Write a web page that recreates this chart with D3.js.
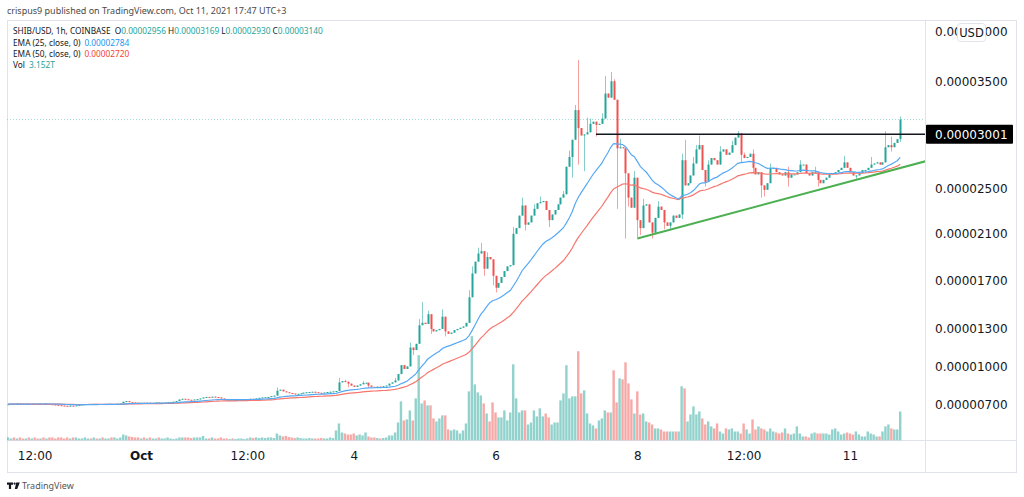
<!DOCTYPE html>
<html>
<head>
<meta charset="utf-8">
<script src="https://cdn.jsdelivr.net/npm/d3@7"></script>
<style>
body{margin:0;background:#fff;}
svg{display:block;}
</style>
</head>
<body>
<svg id="chart" width="1024" height="497"></svg>
<script>
// ---------- DATA (prices in units of 1e-6 USD, volume in trillions) ----------
const firstOpen = 7.05;
const closes = [
7.06,7.10,7.08,7.12,7.09,7.07,7.10,7.08,7.11,7.09,
7.08,7.10,7.07,7.09,7.06,7.04,7.02,6.98,6.96,6.94,
6.92,6.95,6.93,6.97,7.00,7.03,7.06,7.08,7.07,7.09,
7.06,7.08,7.05,7.07,7.09,7.06,7.08,7.10,7.12,7.25,
7.30,7.22,7.20,7.18,7.16,7.17,7.15,7.18,7.16,7.17,7.19,7.16,7.18,7.20,7.22,
7.22,7.25,7.30,7.42,7.48,7.44,
7.40,7.38,7.42,7.45,7.50,7.58,
7.62,7.60,7.64,7.61,7.58,7.50,
7.42,7.38,7.40,7.36,7.38,7.40,7.42,7.44,7.46,
7.48,7.45,7.50,7.55,7.58,7.60,7.62,7.68,
7.72,8.10,8.18,8.05,7.98,7.92,
7.88,7.84,7.86,7.90,7.95,
7.98,8.00,8.02,7.98,7.94,7.92,
7.96,8.00,8.02,8.05,8.08,
8.75,8.85,
8.80,8.65,8.50,8.40,8.50,8.60,8.70,8.72,8.50,8.40,8.38,8.42,8.40,8.45,8.50,8.65,8.75,
8.90,9.40,10.10,9.80,10.00,11.50,11.30,11.80,13.30,13.50,13.40,14.20,13.00,12.80,12.90,13.00,14.00,12.80,12.60,12.70,12.90,13.00,13.10,13.20,13.50,15.60,17.60,18.60,19.30,
19.50,18.00,19.00,18.80,17.40,16.40,16.80,17.30,17.80,18.20,18.30,21.00,21.50,22.60,23.50,21.80,22.00,22.60,23.20,23.70,
23.80,23.90,23.10,22.20,22.70,23.10,23.60,24.20,24.50,27.00,27.90,29.50,32.30,30.60,29.90,30.00,30.20,31.00,31.20,30.90,
31.00,31.50,33.90,33.50,35.10,33.30,28.70,28.80,28.70,26.40,24.20,23.30,26.00,22.20,21.50,23.50,23.60,22.00,21.10,22.40,
23.40,23.10,22.00,21.70,22.00,22.60,22.40,22.70,27.60,25.30,25.50,26.20,27.30,28.60,29.00,26.70,25.60,27.20,27.80,27.60,
27.20,28.40,28.60,28.10,28.30,29.00,29.70,30.10,28.10,27.80,27.90,28.20,26.90,26.30,26.50,25.30,24.90,25.50,26.90,26.90,
26.50,26.30,26.20,26.50,26.00,26.30,26.30,26.50,27.20,27.20,26.40,26.20,26.50,26.50,25.80,25.50,25.80,26.00,26.30,26.40,
26.50,26.70,26.90,27.40,26.90,26.50,26.20,26.20,26.40,26.70,26.70,26.90,27.20,27.30,27.40,27.20,27.40,28.80,29.00,28.80,29.20,29.56,31.40
];
// notable wicks beyond the body: [candle index, price]
const highWicks = [[91,8.35],[112,9.1],[114,8.95],[120,8.85],[131,9.1],[136,11.9],[139,13.8],[140,15.2],[142,14.5],[147,14.6],
[156,16.2],[157,18.2],[159,19.8],[160,20.2],[162,19.4],[171,21.6],[174,24.2],[178,23.6],[180,24.3],[188,24.8],[190,28.5],
[192,32.8],[193,37.2],[196,31.6],[197,31.5],[201,32.0],[202,35.6],[204,36.0],[205,35.3],[207,29.6],[212,26.6],[215,24.1],
[220,23.9],[228,28.2],[229,29.5],[232,27.9],[233,29.0],[234,29.9],[237,27.6],[241,28.9],[245,29.4],[247,30.3],[249,28.3],
[252,28.6],[258,27.3],[264,27.0],[268,27.6],[273,27.0],[283,28.0],[292,27.9],[297,30.3],[299,29.8],[302,31.69]];
const lowWicks = [[115,8.35],[122,8.3],[137,10.9],[143,12.6],[148,12.4],[161,17.4],[164,16.6],[165,16.0],[175,21.3],[183,21.6],
[191,26.0],[193,27.2],[195,26.6],[199,29.8],[206,23.2],[209,20.6],[210,23.4],[213,20.7],[214,20.9],[218,20.6],[222,21.4],
[224,21.3],[228,22.3],[236,25.2],[248,27.4],[252,26.4],[255,24.2],[256,24.3],[264,25.2],[274,25.2],[287,25.9],[299,28.4],[302,29.30]];
const volumes = [
0.33,0.22,0.33,0.22,0.33,0.22,0.22,0.33,0.22,0.33,0.22,0.22,0.33,0.22,0.33,0.33,0.22,0.33,0.33,0.22,
0.33,0.22,0.33,0.33,0.22,0.22,0.33,0.22,0.22,0.33,0.22,0.22,0.33,0.22,0.22,0.33,0.33,0.22,0.33,0.65,
0.55,0.44,0.38,0.33,0.33,0.22,0.33,0.22,0.33,0.22,0.22,0.33,0.22,0.22,0.33,
0.22,0.16,0.22,0.33,0.33,0.33,0.33,0.27,0.33,0.33,0.33,0.49,
0.22,0.22,0.33,0.22,0.22,0.33,0.22,0.22,0.16,0.22,0.16,0.22,0.22,0.16,0.22,0.33,0.27,0.33,0.27,0.33,0.27,0.33,0.33,0.27,
0.76,0.55,0.44,0.49,0.38,
0.33,0.27,0.33,0.27,0.22,0.22,0.27,0.22,0.22,0.22,0.27,0.22,0.22,0.33,0.27,
1.09,1.85,0.87,
0.76,0.65,0.65,0.76,0.55,0.65,0.55,0.87,0.44,0.33,0.33,0.27,0.22,0.27,0.33,0.55,0.55,
0.87,1.96,4.25,2.18,2.29,3.27,2.18,4.58,9.27,4.03,4.36,3.82,3.82,2.40,2.07,2.40,2.73,2.73,1.20,1.09,1.20,1.09,0.76,1.09,1.85,5.34,11.34,6.10,5.23,
4.90,4.03,2.94,2.07,4.14,3.05,2.51,2.51,3.27,2.18,3.05,8.28,4.58,3.05,3.27,3.27,1.74,1.96,3.27,2.62,
3.49,2.62,2.94,2.51,1.74,1.96,1.96,4.36,5.12,8.18,4.58,4.80,4.80,9.70,5.12,5.45,2.94,1.85,1.64,1.31,
2.18,2.40,3.27,3.05,3.05,7.63,4.14,6.76,6.65,8.50,6.21,4.47,2.94,5.34,2.83,2.94,2.07,1.96,1.74,1.31,
1.31,1.20,0.98,0.98,0.98,0.98,0.98,0.98,5.89,5.67,2.07,2.83,3.71,2.83,3.16,2.40,1.74,2.07,1.53,1.31,
1.85,0.98,0.76,1.31,1.20,1.31,0.98,0.98,0.76,1.85,1.20,0.76,2.29,1.20,1.53,1.31,1.20,0.98,1.31,0.98,
0.87,0.76,0.87,1.31,0.76,0.65,0.76,1.53,0.76,0.44,0.44,0.33,0.76,0.87,0.76,0.76,0.76,0.76,0.65,1.20,
1.31,0.98,0.65,0.76,0.87,0.76,0.65,0.98,0.65,0.44,0.44,0.98,0.76,0.65,0.44,0.44,0.98,1.53,1.74,1.31,1.20,1.20,3.152
];
const priceTicks = [40, 35, 25, 21, 17, 13, 10, 7];
const markedLevel = 30.01;           // horizontal resistance line
const trendStart = {t: Date.UTC(2021, 9, 8, 0), v: 20.6};
const trendEnd   = {t: Date.UTC(2021, 9, 12, 1, 30), v: 27.5};
const lineStartTime = Date.UTC(2021, 9, 7, 10);
const timeTicks = [Date.UTC(2021,8,29,12), Date.UTC(2021,9,1), Date.UTC(2021,9,2,12), Date.UTC(2021,9,4),
  Date.UTC(2021,9,6), Date.UTC(2021,9,8), Date.UTC(2021,9,9,12), Date.UTC(2021,9,11)];
const timeLabels = ["12:00", "Oct", "12:00", "4", "6", "8", "12:00", "11"];
const legendOHLC = [["O","0.00002956"],["H","0.00003169"],["L","0.00002930"],["C","0.00003140"]];
const ema25Label = "0.00002784", ema50Label = "0.00002720", volLabel = "3.152T";

// ---------- DERIVED ----------
const N = closes.length;
const HOUR = 3600e3;
const lastCandle = Date.UTC(2021, 9, 11, 17);
const times = closes.map((_, i) => lastCandle - (N - 1 - i) * HOUR);
const opens = closes.map((c, i) => i === 0 ? firstOpen : closes[i - 1]);
const highs = closes.map((c, i) => Math.max(c, opens[i]));
const lows = closes.map((c, i) => Math.min(c, opens[i]));
highWicks.forEach(([i, v]) => highs[i] = Math.max(highs[i], v));
lowWicks.forEach(([i, v]) => lows[i] = Math.min(lows[i], v));
function ema(n) { const k = 2 / (n + 1); let e = closes[0]; return closes.map(c => (e = c * k + e * (1 - k))); }
const ema25 = ema(25), ema50 = ema(50);

// ---------- SCALES ----------
const x = d3.scaleUtc().domain([Date.UTC(2021,9,1), Date.UTC(2021,9,11)]).range([141, 850]);
const OFF = 95;
const yLog = d3.scaleLog().domain([7 + OFF, 40 + OFF]).range([405, 32]);
const y = v => yLog(v + OFF);
const yVol = d3.scaleLinear().domain([0, 10]).range([440.5, 348.5]);

const UP = "#26a69a", DOWN = "#ef5350";
const svg = d3.select("#chart");
const FONT = "'DejaVu Sans', sans-serif";
const SMALL = "'Noto Sans', sans-serif";

// frame
const L = 7, R = 1016, T = 20, B = 472, PR = 925, PB = 440.5;
svg.append("defs").append("clipPath").attr("id", "plot").append("rect")
  .attr("x", L).attr("y", T).attr("width", PR - L).attr("height", PB - T);
const frame = svg.append("g").attr("stroke", "#e0e3eb").attr("fill", "none");
frame.append("rect").attr("x", L + 0.5).attr("y", T + 0.5).attr("width", R - L).attr("height", B - T);
frame.append("line").attr("x1", PR + 0.5).attr("x2", PR + 0.5).attr("y1", T).attr("y2", B);
frame.append("line").attr("x1", L).attr("x2", R).attr("y1", PB).attr("y2", PB);

const plot = svg.append("g").attr("clip-path", "url(#plot)");
const idx = d3.range(N);
const isUp = i => closes[i] >= opens[i];

// volume
plot.append("g").selectAll("rect").data(idx).join("rect")
  .attr("x", i => x(times[i]) - 1.2).attr("width", 2.4)
  .attr("y", i => yVol(volumes[i])).attr("height", i => yVol(0) - yVol(volumes[i]))
  .attr("fill", i => isUp(i) ? UP : DOWN).attr("fill-opacity", 0.5);

// price line (dotted, last close)
plot.append("line").attr("x1", L).attr("x2", PR).attr("y1", y(closes[N-1])).attr("y2", y(closes[N-1]))
  .attr("stroke", "#5cc6bb").attr("stroke-opacity", 0.6).attr("stroke-dasharray", "1,2");

// wicks
plot.append("g").selectAll("line").data(idx).join("line")
  .attr("x1", i => Math.round(x(times[i])) + 0.5).attr("x2", i => Math.round(x(times[i])) + 0.5)
  .attr("y1", i => y(highs[i])).attr("y2", i => y(lows[i]))
  .attr("stroke", i => isUp(i) ? UP : DOWN).attr("stroke-opacity", 0.55).attr("stroke-width", 1);
// bodies
plot.append("g").selectAll("rect").data(idx).join("rect")
  .attr("x", i => Math.round(x(times[i])) - 0.5).attr("width", 2)
  .attr("y", i => y(Math.max(opens[i], closes[i])))
  .attr("height", i => Math.max(1, Math.abs(y(opens[i]) - y(closes[i]))))
  .attr("fill", i => isUp(i) ? UP : DOWN);

// EMAs
const lineGen = arr => d3.line().x((d, i) => x(times[i])).y(d => y(d)).curve(d3.curveLinear)(arr);
plot.append("path").attr("d", lineGen(ema50)).attr("fill", "none").attr("stroke", "#f7766e").attr("stroke-width", 1.2);
plot.append("path").attr("d", lineGen(ema25)).attr("fill", "none").attr("stroke", "#56a8f5").attr("stroke-width", 1.2);

// resistance and trend lines
plot.append("line").attr("x1", x(lineStartTime)).attr("x2", PR).attr("y1", y(markedLevel)).attr("y2", y(markedLevel))
  .attr("stroke", "#131722").attr("stroke-width", 1.5);
plot.append("line").attr("x1", x(trendStart.t)).attr("y1", y(trendStart.v))
  .attr("x2", x(trendEnd.t)).attr("y2", y(trendEnd.v))
  .attr("stroke", "#4caf50").attr("stroke-width", 2);

// price axis
const pa = svg.append("g").attr("font-family", FONT).attr("font-size", 12).attr("fill", "#131722");
priceTicks.forEach(v => {
  pa.append("text").attr("x", 935).attr("y", y(v)).attr("dy", "0.35em").text((v * 1e-6).toFixed(8));
});
// marked level label
const ly = y(markedLevel);
svg.append("rect").attr("x", 926).attr("y", ly - 9.5).attr("width", 87).attr("height", 19).attr("fill", "#000").attr("rx", 1);
svg.append("text").attr("x", 935).attr("y", ly).attr("dy", "0.35em").attr("font-family", FONT).attr("font-size", 12)
  .attr("fill", "#fff").text((markedLevel * 1e-6).toFixed(8));
// USD badge (overlaps the top tick label, as in the original)
svg.append("rect").attr("x", 957.5).attr("y", 23.5).attr("width", 28).attr("height", 18).attr("rx", 3)
  .attr("fill", "#fff").attr("stroke", "#e0e3eb");
svg.append("text").attr("x", 971.5).attr("y", 32.5).attr("dy", "0.35em").attr("text-anchor", "middle")
  .attr("font-family", FONT).attr("font-size", 11.5).attr("fill", "#131722").text("USD");

// time axis
const ta = svg.append("g").attr("transform", `translate(0,${PB})`)
  .call(d3.axisBottom(x).tickValues(timeTicks).tickSize(0).tickPadding(11).tickFormat((d, i) => timeLabels[i]));
ta.select(".domain").remove();
ta.selectAll("text").attr("font-family", FONT).attr("font-size", 12).attr("fill", "#131722")
  .attr("font-weight", (d, i) => timeLabels[i] === "Oct" ? "bold" : null);

// header and legend
svg.append("text").attr("x", 7).attr("y", 14).attr("font-family", SMALL).attr("font-size", 9).attr("fill", "#4a4a4a")
  .text("crispus9 published on TradingView.com, Oct 11, 2021 17:47 UTC+3");
const lg = svg.append("g").attr("font-family", SMALL).attr("font-size", 8.3).attr("fill", "#131722");
const l1 = lg.append("text").attr("x", 13).attr("y", 34);
l1.append("tspan").text("SHIB/USD, 1h, COINBASE ");
legendOHLC.forEach(([k, v]) => {
  l1.append("tspan").attr("dx", 2).text(k);
  l1.append("tspan").attr("fill", UP).text(v);
});
const l2 = lg.append("text").attr("x", 13).attr("y", 46);
l2.append("tspan").text("EMA (25, close, 0)");
l2.append("tspan").attr("dx", 4).attr("fill", "#2196f3").text(ema25Label);
const l3 = lg.append("text").attr("x", 13).attr("y", 57);
l3.append("tspan").text("EMA (50, close, 0)");
l3.append("tspan").attr("dx", 4).attr("fill", "#f44336").text(ema50Label);
const l4 = lg.append("text").attr("x", 13).attr("y", 68);
l4.append("tspan").text("Vol");
l4.append("tspan").attr("dx", 4).attr("fill", UP).text(volLabel);

// footer logo
const logo = svg.append("g").attr("fill", "#131722");
logo.append("path").attr("d", "M7 482.5h6v2.2h-1.9v4.3h-2.2v-4.3H7z");
logo.append("circle").attr("cx", 14.6).attr("cy", 483.6).attr("r", 1.1);
logo.append("path").attr("d", "M16.2 482.5h3.6l-2.6 6.5h-2.4z");
svg.append("text").attr("x", 22).attr("y", 488.5).attr("font-family", SMALL).attr("font-size", 9)
  .attr("fill", "#555").text("TradingView");
</script>
</body>
</html>
